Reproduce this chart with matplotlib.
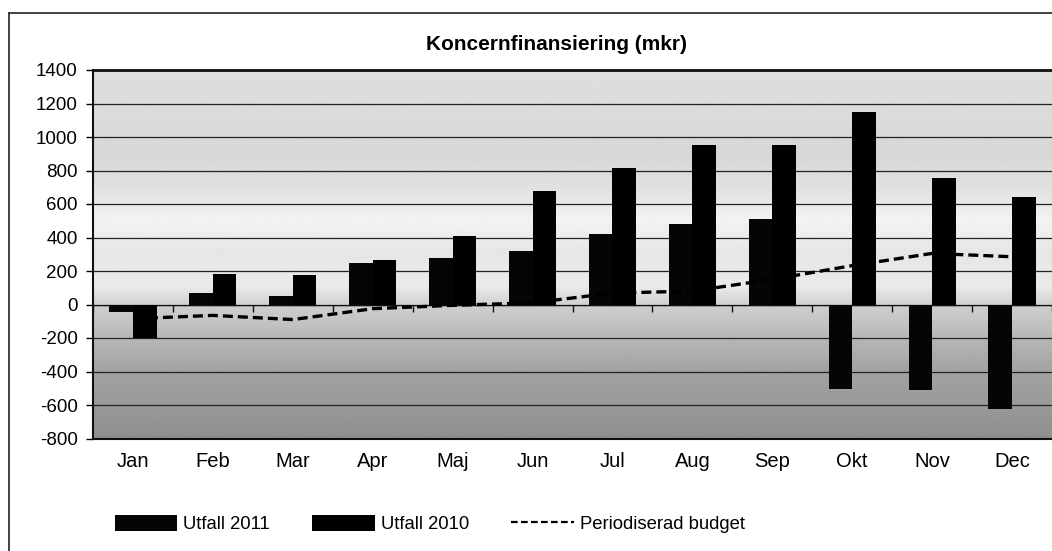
import numpy as np
import matplotlib
matplotlib.use("Agg")
import matplotlib.pyplot as plt
from matplotlib.lines import Line2D
from matplotlib.patches import Patch

months = ["Jan", "Feb", "Mar", "Apr", "Maj", "Jun", "Jul", "Aug", "Sep", "Okt", "Nov", "Dec"]
utfall_2011 = [-45, 70, 50, 245, 275, 320, 420, 478, 510, -505, -510, -625]
utfall_2010 = [-202, 180, 178, 268, 408, 677, 812, 955, 952, 1147, 755, 643]
budget = [-85, -65, -90, -25, -5, 10, 68, 80, 150, 232, 305, 285]

plt.rcParams["font.family"] = ["Liberation Sans", "DejaVu Sans"]
plt.rcParams["axes.unicode_minus"] = False

fig = plt.figure(figsize=(10.52, 5.51), dpi=100)
ax = fig.add_axes([93 / 1052, 1 - 438.5 / 551, 1 - 93 / 1052, (438.5 - 70) / 551])

x = np.arange(len(months))
width = 0.295

# scanned-looking gray gradient behind the plot
ymin, ymax = -800, 1400
levels_y = [1400, 1100, 900, 700, 500, 300, 100, 0, -200, -400, -600, -800]
levels_g = [0.87, 0.86, 0.84, 0.88, 0.95, 0.90, 0.92, 0.82, 0.72, 0.64, 0.60, 0.56]
yy = np.linspace(ymax, ymin, 400)
grad = np.interp(yy, levels_y[::-1], levels_g[::-1])[:, None]
ax.imshow(grad, cmap="gray", vmin=0, vmax=1, aspect="auto",
          extent=[-0.5, 11.5, ymin, ymax], zorder=0, interpolation="bilinear")

ax.set_axisbelow(True)
ax.yaxis.grid(True, color="#222222", linewidth=0.9)
ax.axhline(0, color="#111111", linewidth=1.0, zorder=1)

ax.bar(x - width / 2, utfall_2011, width, color="#050505", label="Utfall 2011", zorder=3)
ax.bar(x + width / 2, utfall_2010, width, color="#000000", label="Utfall 2010", zorder=3)
ax.plot(x, budget, color="black", linestyle=(0, (3, 1.5)), linewidth=2.4,
        label="Periodiserad budget", zorder=4)

ax.set_xlim(-0.5, 11.5)
ax.set_ylim(ymin, ymax)
ax.set_yticks(np.arange(-800, 1401, 200))
ax.set_xticks(x)
ax.set_xticklabels(months)
ax.tick_params(axis="x", length=0, pad=10, labelsize=14.5)
ax.tick_params(axis="y", length=5, width=1, pad=6, labelsize=13.5, direction="out")

for side in ["top", "left", "bottom"]:
    ax.spines[side].set_color("#111111")
ax.spines["top"].set_linewidth(2)
ax.spines["left"].set_linewidth(1.5)
ax.spines["bottom"].set_linewidth(1.5)
ax.spines["right"].set_visible(False)

# category tick marks on the zero line
sec = ax.secondary_xaxis((0 - ymin) / (ymax - ymin))
sec.set_xticks(np.arange(-0.5, 12, 1))
sec.set_xticklabels([])
sec.tick_params(length=5, width=1, direction="out", color="#111111")
sec.spines["bottom"].set_visible(False)

fig.text(557 / 1052, 1 - 45 / 551, "Koncernfinansiering (mkr)", ha="center", va="center",
         fontsize=15, fontweight="bold")

handles = [
    Patch(facecolor="#050505", edgecolor="none"),
    Patch(facecolor="#000000", edgecolor="none"),
    Line2D([], [], color="black", linestyle=(0, (3, 1.5)), linewidth=1.6),
]
fig.legend(handles, ["Utfall 2011", "Utfall 2010", "Periodiserad budget"],
           loc="center left", bbox_to_anchor=(98 / 1052, 1 - 524 / 551), ncol=3,
           frameon=False, fontsize=13.3, handlelength=3.4, handleheight=0.95,
           handletextpad=0.3, columnspacing=2.3)

# outer chart border (cut off on right and bottom)
fig.add_artist(Line2D([9 / 1052, 9 / 1052], [0, 1 - 12.5 / 551], color="#333333",
                      linewidth=1.3, transform=fig.transFigure))
fig.add_artist(Line2D([9 / 1052, 1], [1 - 12.5 / 551, 1 - 12.5 / 551], color="#333333",
                      linewidth=1.3, transform=fig.transFigure))

fig.savefig("out.png", dpi=100)
